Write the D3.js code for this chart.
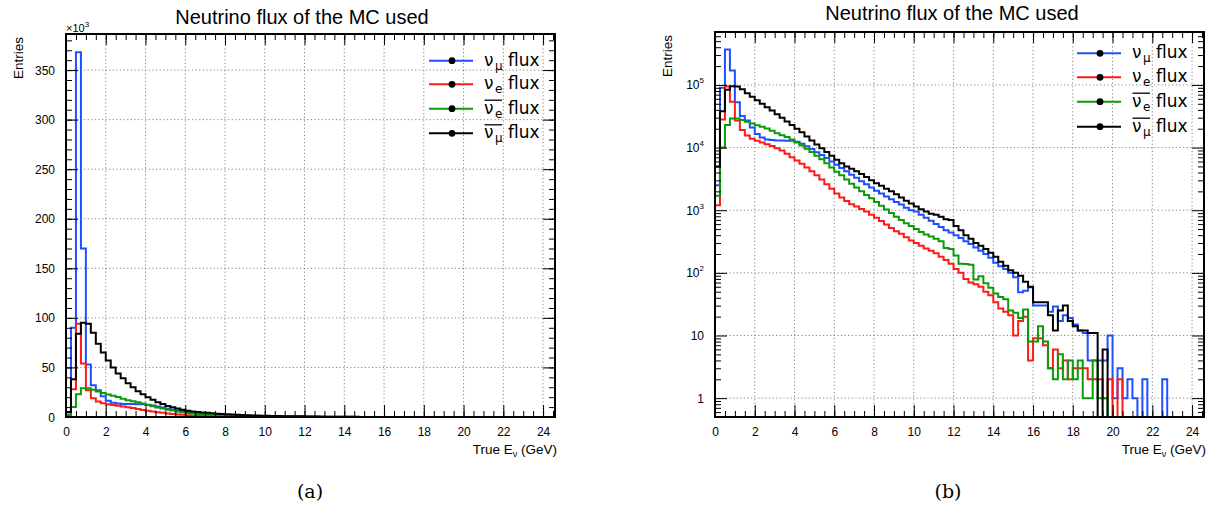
<!DOCTYPE html>
<html>
<head>
<meta charset="utf-8">
<script src="https://cdn.jsdelivr.net/npm/d3@7/dist/d3.min.js"></script>
<style>
  body { margin: 0; background: #fff; }
  svg text { fill: #000; }
</style>
</head>
<body>
<svg id="fig" width="1210" height="508" font-family="Liberation Sans, Arial, Helvetica, sans-serif"></svg>
<script>
// histogram bins: 0.25 GeV wide, starting at 0
const binWidth = 0.25;

// nu_mu flux (blue)
const numu = [
  2500, 90000, 368000, 170000, 53000, 32000, 27000, 21000,
  16500, 14500, 13500, 13200, 13000, 13000, 12900, 12800,
  12400, 11500, 10500, 9500, 8400, 7600, 6800, 6000,
  5300, 4700, 4200, 3700, 3300, 2900, 2600, 2300,
  2050, 1850, 1650, 1500, 1350, 1230, 1100, 1000,
  950, 850, 760, 680, 600, 540, 480, 440,
  400, 360, 320, 290, 255, 225, 200, 175,
  145, 128, 115, 100, 85, 49, 52, 59,
  30, 30, 30, 24, 29, 17, 21, 19,
  15, 12, 11, 4, 4, 4, 4, 10,
  1, 3, 1, 2, 1, 0, 2, 0,
  0, 0, 2, 0, 0, 0, 0, 0
];
// nu_e flux (red)
const nue = [
  1200, 28000, 94000, 54000, 27000, 19000, 15600, 13800,
  12800, 12000, 11300, 10600, 9800, 9000, 8000, 7000,
  6200, 5500, 4800, 4200, 3600, 3100, 2600, 2200,
  1850, 1600, 1400, 1250, 1150, 1050, 950, 850,
  760, 670, 590, 520, 460, 420, 370, 330,
  300, 270, 245, 225, 205, 180, 160, 140,
  115, 100, 80, 70, 66, 60, 50, 44,
  34, 27, 24, 21, 10, 17, 20, 4,
  9, 9, 7, 3, 6, 3, 4, 2,
  3, 3, 3, 2, 2, 2, 1, 2,
  0, 2, 0, 0, 0, 0, 0, 0,
  0, 0, 0, 0, 0, 0, 0, 0
];
// anti nu_e flux (green)
const nuebar = [
  1700, 10000, 23000, 29000, 29000, 27500, 25800, 24300,
  22800, 21500, 20200, 18500, 16900, 15800, 14800, 13500,
  12000, 10800, 9600, 8500, 7400, 6500, 5600, 4800,
  4100, 3600, 3100, 2650, 2300, 2000, 1750, 1550,
  1350, 1180, 1030, 900, 790, 700, 620, 560,
  500, 450, 410, 380, 350, 320, 250, 240,
  190, 140, 138, 135, 78, 88, 68, 58,
  47, 41, 38, 25, 23, 19, 26, 8,
  8, 14, 8, 3, 2, 5, 2, 4,
  2, 4, 1, 1, 4, 1, 1, 0,
  0, 0, 0, 0, 0, 0, 0, 0,
  0, 0, 0, 0, 0, 0, 0, 0
];
// anti nu_mu flux (black)
const numubar = [
  5000, 38000, 84000, 95000, 94000, 85000, 74000, 65000,
  57000, 50000, 44000, 39000, 34000, 30000, 26000, 23000,
  20000, 17500, 15000, 13000, 11200, 9800, 8500, 7400,
  6400, 5600, 5000, 4600, 4200, 3800, 3400, 3000,
  2700, 2450, 2200, 2000, 1800, 1600, 1420, 1280,
  1150, 1040, 950, 880, 850, 790, 720, 700,
  560, 480, 400, 350, 300, 270, 240, 210,
  180, 150, 130, 110, 100, 90, 72, 60,
  34, 34, 34, 21, 12, 25, 30, 17,
  14, 12, 12, 11, 11, 0, 6, 0,
  0, 0, 0, 0, 0, 0, 0, 0,
  0, 0, 0, 0, 0, 0, 0, 0
];

const seriesNames = ["numu", "nue", "nuebar", "numubar"];
const seriesColors = ["#1f4fff", "#ff1a1a", "#0a9a0a", "#000000"];
const legendNu = [
  { sub: "\u03bc", bar: false },
  { sub: "e", bar: false },
  { sub: "e", bar: true },
  { sub: "\u03bc", bar: true }
];
const xTicks = [0, 2, 4, 6, 8, 10, 12, 14, 16, 18, 20, 22, 24];
const linTicks = [0, 50, 100, 150, 200, 250, 300, 350];   // x10^3
const logTicks = [1, 10, 100, 1000, 10000, 100000];
const titleText = "Neutrino flux of the MC used";

const allSeries = [numu, nue, nuebar, numubar];
const svg = d3.select("#fig");
const SANS = "Liberation Sans, Arial, Helvetica, sans-serif";
const LEG = "DejaVu Sans, sans-serif";

function histPath(vals, x, y, yBottom) {
  let p = `M${x(0)},${yBottom}`;
  vals.forEach((v, i) => {
    const yy = v > 0 ? y(v) : yBottom;
    p += `V${yy}H${x((i + 1) * binWidth)}`;
  });
  return p + `V${yBottom}`;
}

function drawPanel(o) {
  const g = svg.append("g");
  const x = d3.scaleLinear().domain([0, 24.6]).range([o.x0, o.x1]);
  const y = o.y;
  const clipId = "clip" + o.id;
  svg.append("clipPath").attr("id", clipId)
    .append("rect").attr("x", o.x0).attr("y", o.y0)
    .attr("width", o.x1 - o.x0).attr("height", o.y1 - o.y0);

  // grid
  const grid = g.append("g").attr("stroke", "#777").attr("stroke-width", 0.9)
    .attr("stroke-dasharray", "1.2,2.4");
  grid.selectAll(".gx").data(xTicks.filter(t => t > 0)).join("line")
    .attr("x1", d => x(d)).attr("x2", d => x(d)).attr("y1", o.y0).attr("y2", o.y1);
  grid.selectAll(".gy").data(o.yMajor.filter(t => y(t) < o.y1 - 1)).join("line")
    .attr("y1", d => y(d)).attr("y2", d => y(d)).attr("x1", o.x0).attr("x2", o.x1);

  // histograms
  const hg = g.append("g").attr("clip-path", `url(#${clipId})`);
  allSeries.forEach((s, i) => {
    hg.append("path").attr("d", histPath(s, x, y, o.y1))
      .attr("fill", "none").attr("stroke", seriesColors[i])
      .attr("stroke-width", 2).attr("stroke-linejoin", "miter");
  });

  // ticks (inward, ROOT style)
  const xMinor = d3.range(0, 24.6, 0.5);
  const tick = (axis, tr) => g.append("g").attr("transform", tr).call(axis)
    .call(a => a.select(".domain").remove());
  tick(d3.axisBottom(x).tickValues(xMinor).tickSize(-6).tickFormat(""), `translate(0,${o.y1})`);
  tick(d3.axisTop(x).tickValues(xMinor).tickSize(-6).tickFormat(""), `translate(0,${o.y0})`);
  tick(d3.axisTop(x).tickValues(xTicks).tickSize(-11).tickFormat(""), `translate(0,${o.y0})`);
  const xb = tick(d3.axisBottom(x).tickValues(xTicks).tickSize(-12).tickPadding(10), `translate(0,${o.y1})`);
  xb.attr("font-family", SANS).attr("font-size", 12);
  xb.selectAll("text").style("fill", "#000");

  tick(d3.axisLeft(y).tickValues(o.yMinor).tickSize(-6).tickFormat(""), `translate(${o.x0},0)`);
  tick(d3.axisLeft(y).tickValues(o.yMajor).tickSize(-12).tickFormat(""), `translate(${o.x0},0)`);
  tick(d3.axisRight(y).tickValues(o.yMinor).tickSize(-6).tickFormat(""), `translate(${o.x1},0)`);
  tick(d3.axisRight(y).tickValues(o.yMajor).tickSize(-12).tickFormat(""), `translate(${o.x1},0)`);
  g.selectAll(".tick line").attr("stroke", "#000").attr("stroke-width", 1);

  // y labels
  const yl = g.append("g").attr("font-size", 12).attr("text-anchor", "end");
  o.yLabels.forEach(t => {
    const txt = yl.append("text").attr("x", o.x0 - 11).attr("y", y(t.v) + 4.5);
    if (t.exp != null) {
      txt.append("tspan").text("10");
      txt.append("tspan").attr("font-size", 8).attr("dy", -6).text(t.exp);
    } else {
      txt.text(t.label);
    }
  });

  // frame
  g.append("rect").attr("x", o.x0).attr("y", o.y0)
    .attr("width", o.x1 - o.x0).attr("height", o.y1 - o.y0)
    .attr("fill", "none").attr("stroke", "#000").attr("stroke-width", 2);

  // title
  g.append("text").attr("x", o.titleX).attr("y", o.titleY).attr("text-anchor", "middle")
    .attr("font-size", 20).text(titleText);

  // axis titles
  g.append("text").attr("transform", `translate(${o.x0 - 43},${o.y0 + 3}) rotate(-90)`)
    .attr("text-anchor", "end").attr("font-size", 13.5).text("Entries");
  const xt = g.append("text").attr("x", o.x1 + 2).attr("y", 454)
    .attr("text-anchor", "end").attr("font-size", 13.5);
  xt.append("tspan").text("True E");
  xt.append("tspan").attr("font-size", 9).attr("dy", 3).text("\u03bd");
  xt.append("tspan").attr("dy", -3).text(" (GeV)");

  // legend
  const lg = g.append("g").attr("font-family", LEG);
  seriesNames.forEach((n, i) => {
    const cy = o.legY[i];
    const row = lg.append("g");
    row.append("line").attr("x1", o.legX).attr("x2", o.legX + 44).attr("y1", cy).attr("y2", cy)
      .attr("stroke", seriesColors[i]).attr("stroke-width", 2);
    row.append("circle").attr("cx", o.legX + 23).attr("cy", cy).attr("r", 3.4).attr("fill", "#000");
    const tx = o.legX + 55;
    row.append("text").attr("x", tx).attr("y", cy + 5).attr("font-size", 17).text("\u03bd");
    row.append("text").attr("x", tx + 11).attr("y", cy + 9).attr("font-size", 12).text(legendNu[i].sub);
    if (legendNu[i].bar) {
      row.append("line").attr("x1", tx + 0.5).attr("x2", tx + 18).attr("y1", cy - 8.5).attr("y2", cy - 8.5)
        .attr("stroke", "#000").attr("stroke-width", 1.3);
    }
    row.append("text").attr("x", tx + 24).attr("y", cy + 5).attr("font-size", 17).text("flux");
  });

  // caption
  g.append("text").attr("x", o.capX).attr("y", 498).attr("text-anchor", "middle")
    .attr("font-size", 19).attr("font-family", "DejaVu Serif, Liberation Serif, serif").text(o.cap);
  return g;
}

// left panel: linear
const yLin = d3.scaleLinear().domain([0, d3.max(numu) * 1.05]).range([417, 34]);
const gl = drawPanel({
  id: "a", x0: 66, x1: 555, y0: 34, y1: 417, y: yLin,
  yMajor: linTicks.map(v => v * 1000),
  yMinor: d3.range(0, 386000, 10000),
  yLabels: linTicks.map(v => ({ v: v * 1000, label: String(v) })),
  titleX: 302, titleY: 24, legX: 429, legY: [60.7, 84.3, 108.7, 133.3],
  capX: 310, cap: "(a)"
});
const mult = gl.append("text").attr("x", 66).attr("y", 32).attr("font-size", 11);
mult.append("tspan").text("\u00d710");
mult.append("tspan").attr("font-size", 8).attr("dy", -5).text("3");

// right panel: log
const yLog = d3.scaleLog().domain([0.5, 7.0e5]).range([417, 32]);
const logMinor = [];
[0.1, 1, 10, 100, 1000, 10000, 100000].forEach(d => {
  for (let m = 2; m <= 9; m++) { const v = m * d; if (v >= 0.5 && v <= 7.0e5) logMinor.push(v); }
});
drawPanel({
  id: "b", x0: 715, x1: 1204, y0: 32, y1: 417, y: yLog,
  yMajor: logTicks, yMinor: logMinor,
  yLabels: logTicks.map((v, i) => (i < 2 ? { v, label: String(v) } : { v, exp: String(i) })),
  titleX: 952, titleY: 20, legX: 1077, legY: [53.3, 77.3, 101.7, 126.7],
  capX: 948, cap: "(b)"
});
</script>
</body>
</html>
